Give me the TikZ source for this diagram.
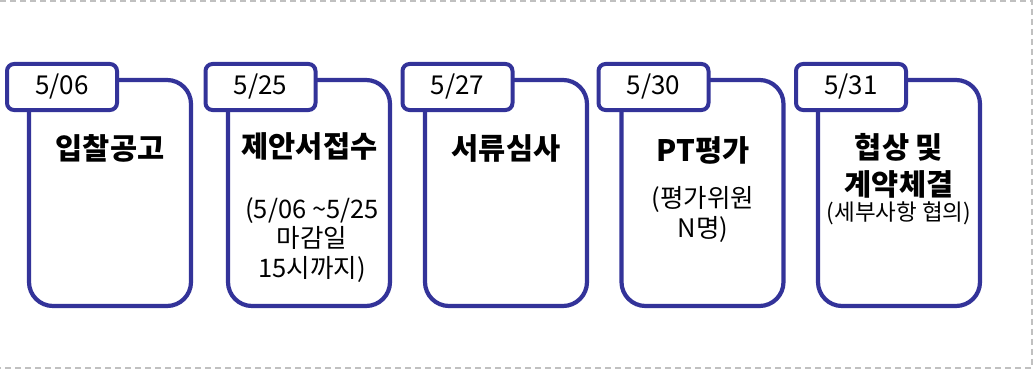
\documentclass[tikz,border=0pt]{standalone}
\usepackage{fontspec}
\setmainfont{Noto Sans CJK KR}
\definecolor{cardblue}{RGB}{51,51,153}
\definecolor{framegray}{RGB}{192,192,192}
\tikzset{
  card/.style={draw=cardblue, line width=4.2pt, rounded corners=24pt, fill=white,
    minimum width=162pt, minimum height=226pt, inner sep=0pt, outer sep=0pt},
  datetab/.style={draw=cardblue, line width=4pt, rounded corners=7pt, fill=white,
    minimum width=110pt, minimum height=46pt, inner sep=0pt, outer sep=0pt,
    font=\fontsize{26pt}{28pt}\selectfont},
  title/.style={font=\bfseries\fontsize{29.5pt}{37pt}\selectfont, align=center, inner sep=0pt},
  sub/.style={font=\fontsize{25.5pt}{29.5pt}\selectfont, align=center, inner sep=0pt},
  subsmall/.style={font=\fontsize{22.5pt}{24pt}\selectfont, align=center, inner sep=0pt},
}
\begin{document}
\begin{tikzpicture}[x=1pt,y=-1pt]
\useasboundingbox (0,0) rectangle (1034,369);
\draw[framegray, line width=1.6pt, dash pattern=on 6pt off 4pt] (0,0.8) -- (1032,0.8) -- (1032,368) -- (0,368);
% cards
\node[card] (b1) at (110,193) {};
\node[card] (b2) at (309,193) {};
\node[card] (b3) at (506,193) {};
\node[card] (b4) at (702.5,193) {};
\node[card] (b5) at (899,193) {};
% tabs
\node[datetab] (t1) at (62,87) {5/06};
\node[datetab] (t2) at (260.5,87) {5/25};
\node[datetab] (t3) at (457.5,87) {5/27};
\node[datetab] (t4) at (653.5,87) {5/30};
\node[datetab] (t5) at (851,87) {5/31};
% titles
\node[title] (h1) at (110,148) {입찰공고};
\node[title] (h2) at (309.5,146) {제안서접수};
\node[title] (h3) at (506,148) {서류심사};
\node[title] (h4) at (703,150) {PT평가};
\node[title] (h5) at (899,165.5) {협상 및\\계약체결};
% sub texts
\node[sub] (s2) at (312,240) {(5/06 \textasciitilde5/25\\마감일\\15시까지)};
\node[sub] (s4) at (703,214.5) {(평가위원\\N명)};
\node[subsmall] (s5) at (899,213) {(세부사항 협의)};
\end{tikzpicture}
\end{document}
